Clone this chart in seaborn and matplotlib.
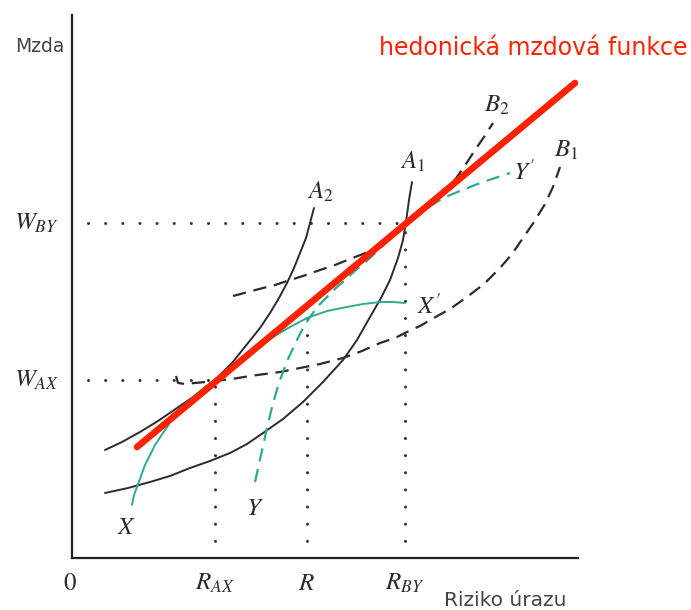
import matplotlib
matplotlib.use("Agg")
import matplotlib.pyplot as plt
import seaborn as sns

# data units: risk (x) and wage (y)
red_x = [65, 503]
red_y = [111, 475]

a2_x = [33, 50, 68, 86, 105, 124, 143, 160, 176, 188, 198, 207, 215, 222, 228, 234, 238, 242]
a2_y = [108, 116, 126, 137, 150, 163, 178, 195, 215, 230, 245, 260, 275, 290, 305, 320, 335, 350]

a1_x = [33, 56, 78, 98, 118, 138, 158, 175, 191, 211, 231, 251, 271, 285, 298, 309, 318, 326,
        331, 334, 337, 340]
a1_y = [65, 70, 76, 82, 90, 97, 105, 114, 125, 139, 156, 176, 198, 218, 241, 260, 278, 300,
        318, 336, 358, 376]

b1_x = [104, 106, 113, 128, 143, 160, 178, 193, 208, 228, 248, 271, 290, 308, 323, 335, 348,
        360, 378, 395, 412, 428, 440, 451, 462, 473, 481, 488]
b1_y = [182, 175, 174, 175.5, 177, 179, 182, 184, 186, 190, 194, 200, 207, 215, 220, 226, 232,
        239, 249, 261, 274, 290, 304, 320, 336, 354, 371, 391]

b2_x = [161, 176, 191, 203, 215, 231, 248, 263, 278, 291, 303, 318, 333, 346, 358, 368, 375,
        385, 394, 403, 412, 421]
b2_y = [262, 266, 270, 273, 277, 282, 288, 293, 299, 304, 310, 321, 334, 344, 353, 361, 368,
        381, 394, 408, 421, 435]

x_x = [60, 62, 65, 69, 73, 78, 83, 93, 103, 113, 123, 133, 143, 156, 168, 184, 201, 218, 235,
       255, 275, 291, 308, 321, 333]
x_y = [53, 63, 71, 82, 93, 103, 113, 128, 143, 153, 163, 171, 178, 188, 198, 210, 221, 231, 240,
       247, 251, 254, 256, 256, 255]

y_x = [183, 189, 195, 201, 208, 216, 225, 231, 238, 246, 255, 264, 273, 285, 298, 315, 333, 351,
       371, 388, 403, 420, 438]
y_y = [76, 103, 130, 155, 178, 199, 218, 230, 241, 252, 261, 270, 278, 289, 300, 316, 332, 347,
       360, 367, 373, 379, 385]

r_ax, r_mid, r_by = 143, 235, 333
w_ax, w_by = 178, 335

tick_labels = ["0", "$R_{AX}$", "$R$", "$R_{BY}$"]

plt.rcParams["mathtext.fontset"] = "stix"
sns.set_style("white")

fig = plt.figure(figsize=(6.91, 6.10), dpi=100)
ax = fig.add_axes([72 / 691, 52 / 610, 506 / 691, 543 / 610])
ax.set_xlim(0, 506)
ax.set_ylim(0, 543)

teal = "#2eaa90"
ink = "#2b2b2b"
dot = (0, (0.01, 5.6))
dash = (0, (6, 3.5))

# dotted guide lines
guides = [([16, r_by], [w_by, w_by]), ([16, r_ax], [w_ax, w_ax]),
          ([r_ax, r_ax], [0, w_ax]), ([r_mid, r_mid], [0, 255]), ([r_by, r_by], [0, w_by])]
for gx, gy in guides:
    ax.plot(gx, gy, color="#333333", lw=2.2, linestyle=dot, dash_capstyle="round")

kw = dict(ax=ax, sort=False, estimator=None)
sns.lineplot(x=a2_x, y=a2_y, color=ink, lw=1.4, **kw)
sns.lineplot(x=a1_x, y=a1_y, color=ink, lw=1.4, **kw)
sns.lineplot(x=b1_x, y=b1_y, color=ink, lw=1.6, linestyle=dash, **kw)
sns.lineplot(x=b2_x, y=b2_y, color=ink, lw=1.6, linestyle=dash, **kw)
sns.lineplot(x=x_x, y=x_y, color=teal, lw=1.4, **kw)
sns.lineplot(x=y_x, y=y_y, color=teal, lw=1.6, linestyle=dash, **kw)
sns.lineplot(x=red_x, y=red_y, color="#ff2200", lw=4.8, **kw)

sns.despine(ax=ax)
for s in ["left", "bottom"]:
    ax.spines[s].set_linewidth(1.6)
    ax.spines[s].set_color("#222222")
ax.set_xticks([])
ax.set_yticks([])

lab = dict(color=ink, fontsize=18, ha="center", va="center", clip_on=False)
ax.text(-36, w_by, "$W_{BY}$", **lab)
ax.text(-36, w_ax, "$W_{AX}$", **lab)
for xv, t in zip([-2, r_ax, r_mid, r_by], tick_labels):
    ax.text(xv, -26, t, family="STIXGeneral", **lab)
ax.text(248, 366, "$A_2$", **lab)
ax.text(341, 396, "$A_1$", **lab)
ax.text(425, 453, "$B_2$", **lab)
ax.text(494, 408, "$B_1$", **lab)
ax.text(452, 386, "$Y'$", **lab)
ax.text(357, 252, "$X'$", **lab)
ax.text(55, 31, "$X$", **lab)
ax.text(183, 50, "$Y$", **lab)

ax.text(-32, 511, "Mzda", color="#444444", fontsize=13.5, ha="center", va="center", clip_on=False)
ax.text(433, -43, "Riziko úrazu", color="#444444", fontsize=14.5, ha="center", va="center",
        clip_on=False)
ax.text(616, 510, "hedonická mzdová funkce", color="#ff2200", fontsize=17,
        ha="right", va="center", clip_on=False)

fig.savefig("out.png", dpi=100)
